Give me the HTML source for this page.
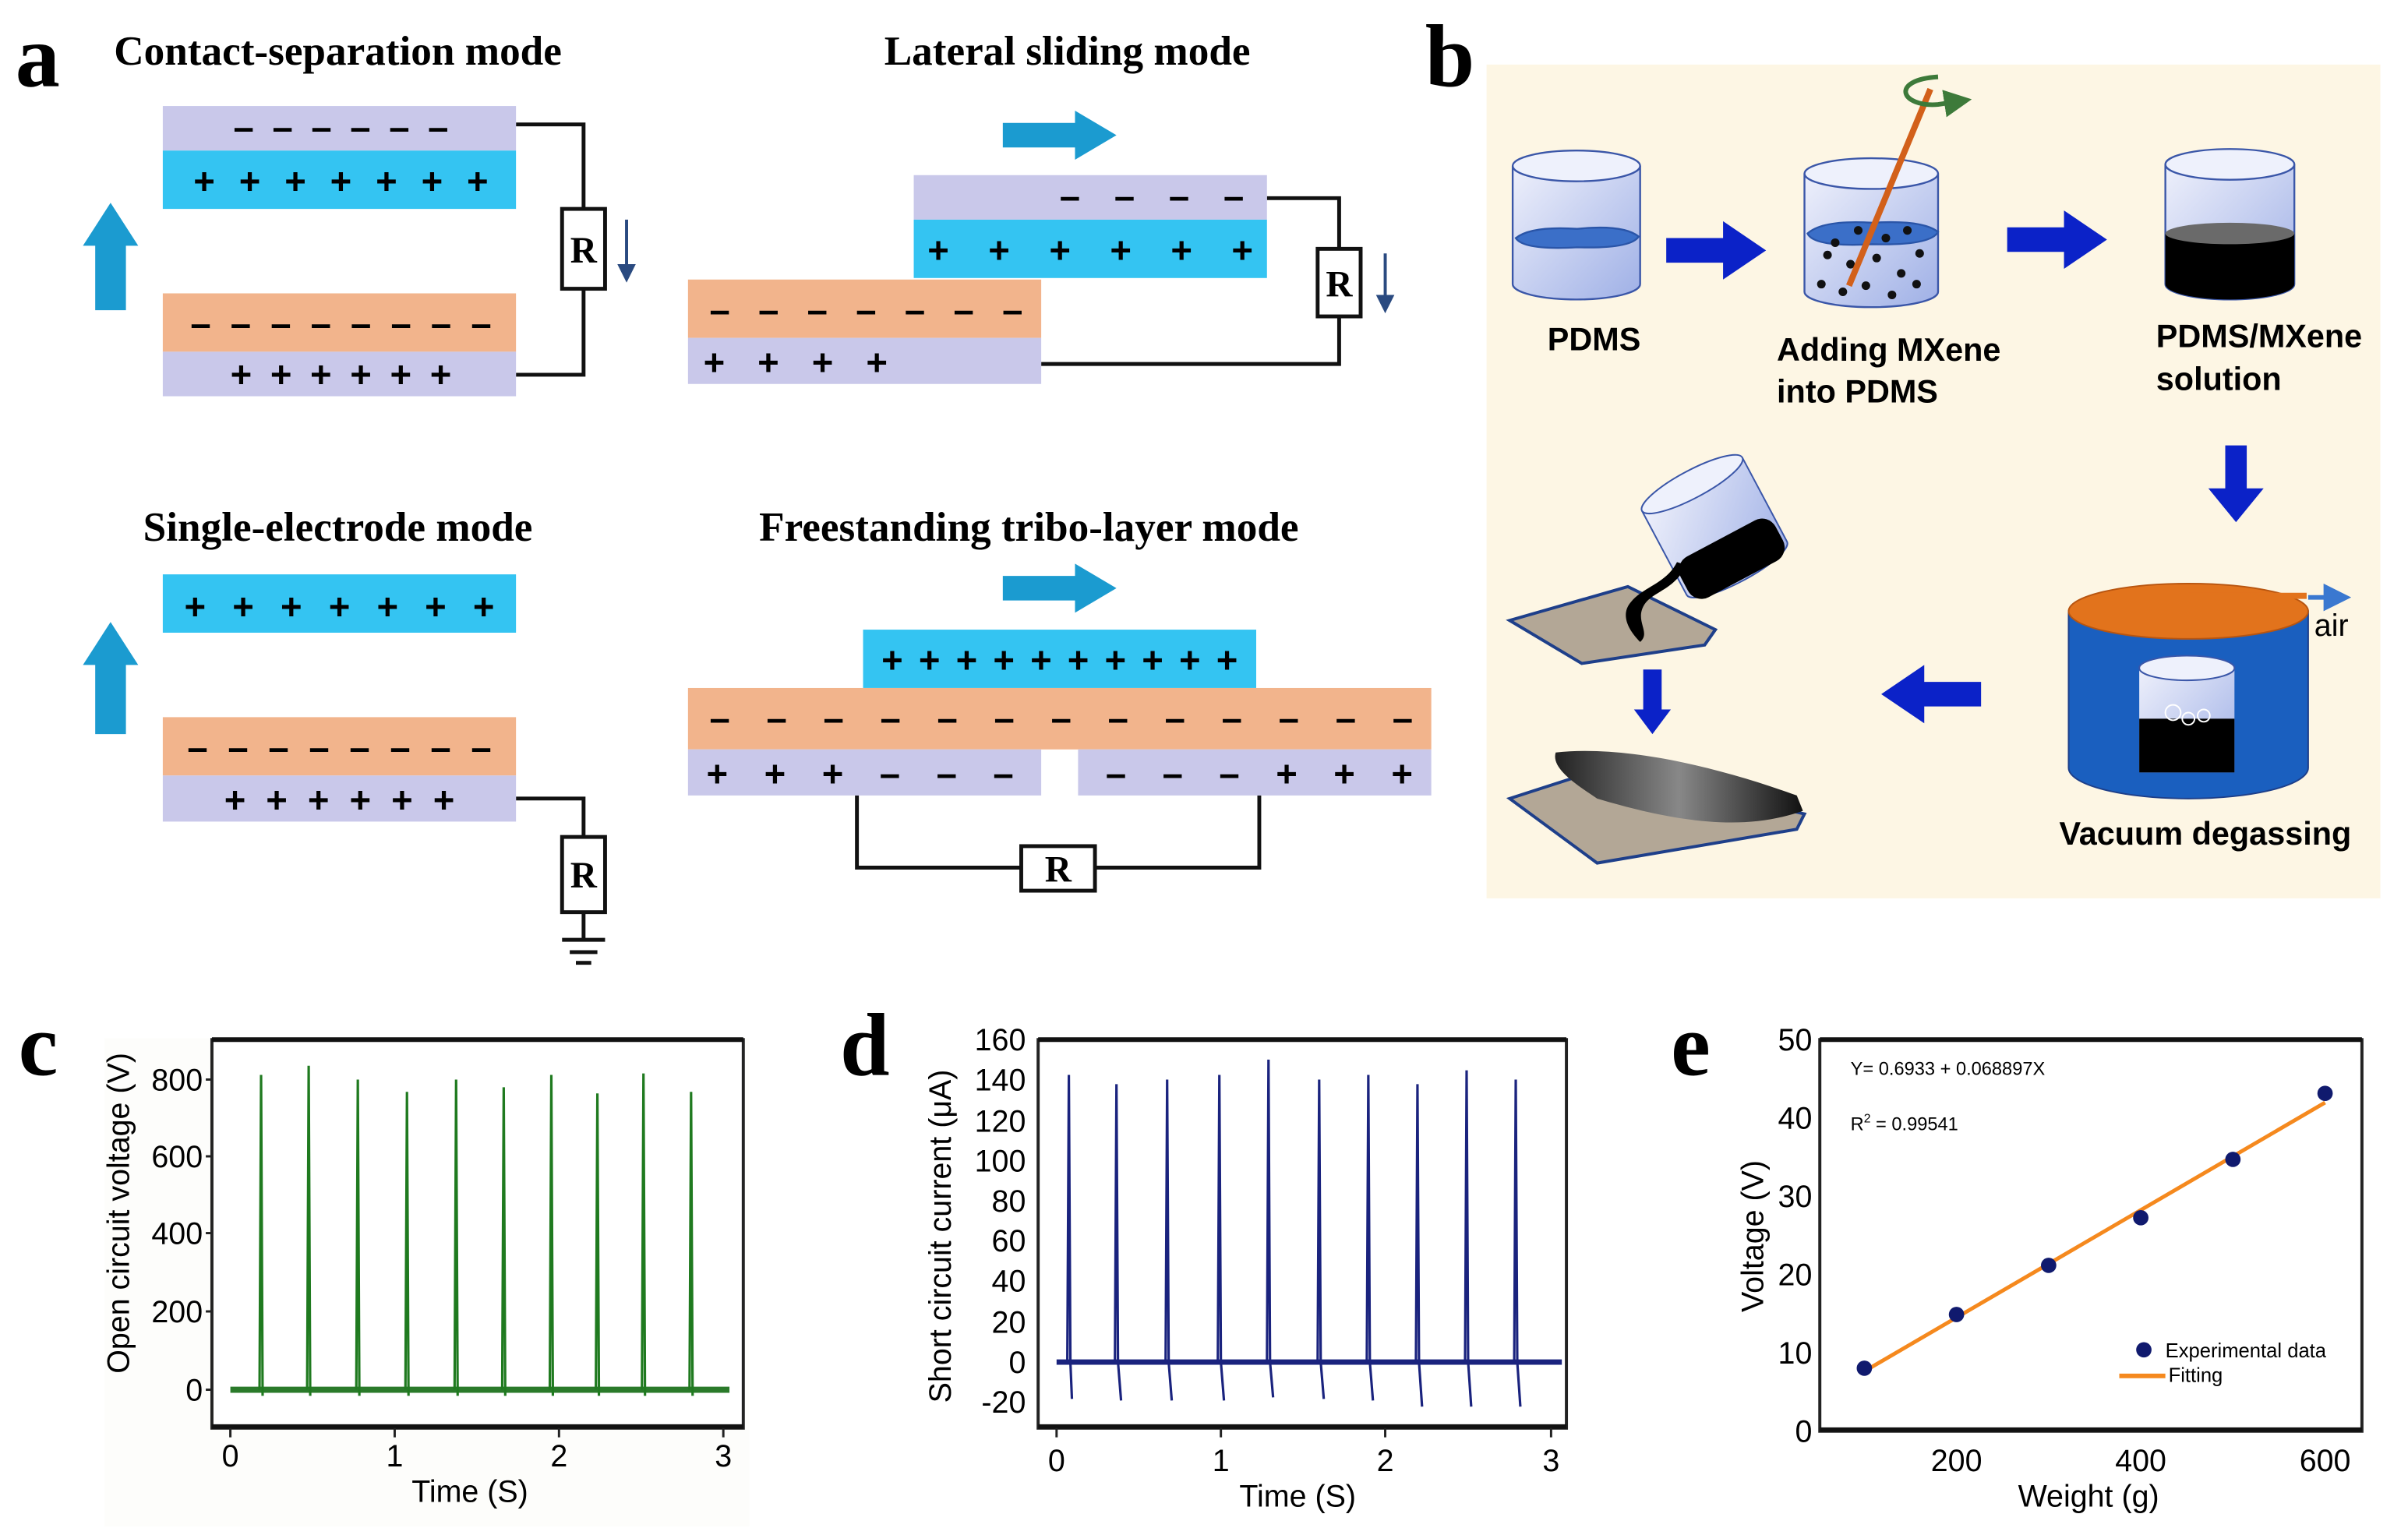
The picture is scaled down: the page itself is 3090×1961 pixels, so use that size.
<!DOCTYPE html>
<html><head><meta charset="utf-8"><style>
html,body{margin:0;padding:0;background:#fff}
svg{display:block}
.t{font-family:"Liberation Serif",serif;font-weight:bold;font-size:27px}
.L{font-family:"Liberation Serif",serif;font-weight:bold;font-size:58px}
.s{font-family:"Liberation Sans",sans-serif;font-weight:bold;font-size:21px}
.a{font-family:"Liberation Sans",sans-serif;font-size:20px}
.sg{font-family:"Liberation Sans",sans-serif;font-weight:bold;font-size:24px}
.R{font-family:"Liberation Serif",serif;font-weight:bold;font-size:24px}
</style></head><body>
<svg width="3090" height="1961" viewBox="0 0 1568 995" xmlns="http://www.w3.org/2000/svg">
<defs>
<linearGradient id="gl" x1="0" y1="0" x2="1" y2="1"><stop offset="0" stop-color="#eef0fb"/><stop offset="1" stop-color="#9fb0e6"/></linearGradient>
<linearGradient id="film" x1="0" y1="0" x2="1" y2="0"><stop offset="0" stop-color="#222"/><stop offset="0.5" stop-color="#888"/><stop offset="1" stop-color="#111"/></linearGradient>
<marker id="ah" markerWidth="6" markerHeight="6" refX="3" refY="3" orient="auto"><path d="M0,0 L6,3 L0,6z" fill="#2a4a80"/></marker>
<marker id="ab" markerWidth="6" markerHeight="6" refX="3" refY="3" orient="auto"><path d="M0,0 L6,3 L0,6z" fill="#3a78d0"/></marker>
<marker id="ag" markerWidth="6" markerHeight="6" refX="3" refY="3" orient="auto"><path d="M0,0 L6,3 L0,6z" fill="#3d7a3a"/></marker>
</defs>

<text class="L" x="10" y="56">a</text>
<text class="L" x="928" y="56">b</text>
<text class="L" x="12" y="700">c</text>
<text class="L" x="547" y="700">d</text>
<text class="L" x="1088" y="700">e</text>

<text class="t" x="220" y="42" text-anchor="middle">Contact-separation mode</text>
<text class="t" x="695" y="42" text-anchor="middle">Lateral sliding mode</text>
<text class="t" x="220" y="352" text-anchor="middle">Single-electrode mode</text>
<text class="t" x="670" y="352" text-anchor="middle">Freestanding tribo-layer mode</text>

<g fill="none" stroke="#111" stroke-width="2.5">
<path d="M336,81 H380 V244 H336"/>
<path d="M825,129 H872 V237 H678"/>
<path d="M336,520 H380 V612"/>
<path d="M558,518 V565 H820 V518"/>
</g>
<rect x="106" y="69" width="230" height="29" fill="#c9c8ea"/>
<rect x="106" y="98" width="230" height="38" fill="#34c4f2"/>
<rect x="106" y="191" width="230" height="38" fill="#f2b48c"/>
<rect x="106" y="229" width="230" height="29" fill="#c9c8ea"/>
<text class="sg" x="152" y="91" textLength="140" lengthAdjust="spacing">– – – – – –</text>
<text class="sg" x="126" y="126" textLength="192" lengthAdjust="spacing">+ + + + + + +</text>
<text class="sg" x="124" y="219" textLength="196" lengthAdjust="spacing">– – – – – – – –</text>
<text class="sg" x="150" y="252" textLength="144" lengthAdjust="spacing">+ + + + + +</text>
<rect x="366" y="136" width="28" height="52" fill="#fff" stroke="#111" stroke-width="2.5"/>
<text class="R" x="380" y="171" text-anchor="middle">R</text>
<line x1="408" y1="143" x2="408" y2="178" stroke="#2a4a80" stroke-width="2" marker-end="url(#ah)"/>
<path d="M62,202 V160 H54 L72,132 L90,160 H82 V202z" fill="#1b9bd0"/>

<path d="M653,80 H700 V72 L727,88 L700,104 V96 H653z" fill="#1b9bd0"/>
<rect x="595" y="114" width="230" height="29" fill="#c9c8ea"/>
<rect x="595" y="143" width="230" height="38" fill="#34c4f2"/>
<rect x="448" y="182" width="230" height="38" fill="#f2b48c"/>
<rect x="448" y="220" width="230" height="30" fill="#c9c8ea"/>
<text class="sg" x="690" y="136" textLength="120" lengthAdjust="spacing">– – – –</text>
<text class="sg" x="604" y="171" textLength="212" lengthAdjust="spacing">+ + + + + +</text>
<text class="sg" x="462" y="210" textLength="204" lengthAdjust="spacing">– – – – – – –</text>
<text class="sg" x="458" y="244" textLength="120" lengthAdjust="spacing">+ + + +</text>
<rect x="858" y="162" width="28" height="44" fill="#fff" stroke="#111" stroke-width="2.5"/>
<text class="R" x="872" y="193" text-anchor="middle">R</text>
<line x1="902" y1="165" x2="902" y2="198" stroke="#2a4a80" stroke-width="2" marker-end="url(#ah)"/>

<rect x="106" y="374" width="230" height="38" fill="#34c4f2"/>
<rect x="106" y="467" width="230" height="38" fill="#f2b48c"/>
<rect x="106" y="505" width="230" height="30" fill="#c9c8ea"/>
<text class="sg" x="120" y="403" textLength="202" lengthAdjust="spacing">+ + + + + + +</text>
<text class="sg" x="122" y="495" textLength="198" lengthAdjust="spacing">– – – – – – – –</text>
<text class="sg" x="146" y="529" textLength="150" lengthAdjust="spacing">+ + + + + +</text>
<path d="M62,478 V433 H54 L72,405 L90,433 H82 V478z" fill="#1b9bd0"/>
<rect x="366" y="545" width="28" height="49" fill="#fff" stroke="#111" stroke-width="2.5"/>
<text class="R" x="380" y="578" text-anchor="middle">R</text>
<g stroke="#111" stroke-width="2.5"><line x1="366" y1="612" x2="394" y2="612"/><line x1="371" y1="620" x2="389" y2="620"/><line x1="375" y1="627" x2="385" y2="627"/></g>

<path d="M653,375 H700 V367 L727,383 L700,399 V391 H653z" fill="#1b9bd0"/>
<rect x="562" y="410" width="256" height="38" fill="#34c4f2"/>
<rect x="448" y="448" width="484" height="40" fill="#f2b48c"/>
<rect x="448" y="488" width="230" height="30" fill="#c9c8ea"/>
<rect x="702" y="488" width="230" height="30" fill="#c9c8ea"/>
<text class="sg" x="574" y="438" textLength="232" lengthAdjust="spacing">+ + + + + + + + + +</text>
<text class="sg" x="462" y="476" textLength="458" lengthAdjust="spacing">– – – – – – – – – – – – –</text>
<text class="sg" x="460" y="512" textLength="200" lengthAdjust="spacing">+ + + – – –</text>
<text class="sg" x="720" y="512" textLength="200" lengthAdjust="spacing">– – – + + +</text>
<rect x="665" y="551" width="48" height="29" fill="#fff" stroke="#111" stroke-width="2.5"/>
<text class="R" x="689" y="574" text-anchor="middle">R</text>

<!-- Panel b -->
<rect x="968" y="42" width="582" height="543" fill="#fdf6e4"/>
<g stroke="#3a56a8" stroke-width="1.2">
<path d="M985,108 V185 A41.5,10 0 0 0 1068,185 V108" fill="url(#gl)"/>
<ellipse cx="1026.5" cy="108" rx="41.5" ry="10" fill="#eef1fc"/>
<path d="M987,155 q10,-8 40,-6 q30,-3 40,5 q-5,8 -40,7 q-35,2 -40,-6z" fill="#3b6fc8" stroke="#2a55a8"/>
</g>
<text class="s" x="1038" y="228" text-anchor="middle">PDMS</text>
<path d="M1085,155 H1122 V144 L1150,163 L1122,182 V171 H1085z" fill="#0b22c8"/>
<g stroke="#3a56a8" stroke-width="1.2">
<path d="M1175,113 V190 A43.5,10 0 0 0 1262,190 V113" fill="url(#gl)"/>
<ellipse cx="1218.5" cy="113" rx="43.5" ry="10" fill="#eef1fc"/>
<path d="M1177,152 q10,-9 42,-7 q33,-2 43,6 q-5,9 -43,8 q-38,2 -42,-7z" fill="#3b6fc8" stroke="#2a55a8"/>
</g>
<g fill="#111">
<circle cx="1190" cy="166" r="2.8"/><circle cx="1205" cy="172" r="2.8"/><circle cx="1222" cy="168" r="2.8"/><circle cx="1238" cy="178" r="2.8"/><circle cx="1250" cy="165" r="2.8"/>
<circle cx="1186" cy="185" r="2.8"/><circle cx="1200" cy="190" r="2.8"/><circle cx="1215" cy="186" r="2.8"/><circle cx="1232" cy="192" r="2.8"/><circle cx="1248" cy="185" r="2.8"/>
<circle cx="1210" cy="150" r="2.8"/><circle cx="1228" cy="155" r="2.8"/><circle cx="1195" cy="158" r="2.8"/><circle cx="1242" cy="150" r="2.8"/>
</g>
<line x1="1204" y1="186" x2="1257" y2="58" stroke="#d2601a" stroke-width="4"/>
<path d="M1262,50 C1230,52 1238,70 1262,68 L1275,66" fill="none" stroke="#3d7a3a" stroke-width="3" marker-end="url(#ag)"/>
<text class="s" x="1157" y="235">Adding MXene</text>
<text class="s" x="1157" y="262">into PDMS</text>
<path d="M1307,148 H1344 V137 L1372,156 L1344,175 V164 H1307z" fill="#0b22c8"/>
<g stroke="#3a56a8" stroke-width="1.2">
<path d="M1410,107 V185 A42,10 0 0 0 1494,185 V107" fill="url(#gl)"/>
<ellipse cx="1452" cy="107" rx="42" ry="10" fill="#eef1fc"/>
</g>
<path d="M1410,152 V185 A42,10 0 0 0 1494,185 V152z" fill="#000"/>
<ellipse cx="1452" cy="152" rx="42" ry="7" fill="#6a6a6a"/>
<text class="s" x="1404" y="226">PDMS/MXene</text>
<text class="s" x="1404" y="254">solution</text>
<path d="M1449,290 V318 H1438 L1456,340 L1474,318 H1463 V290z" fill="#0b22c8"/>
<path d="M1347,398 V500 A78,20 0 0 0 1503,500 V398z" fill="#1a5fbf" stroke="#1d3f8a"/>
<ellipse cx="1425" cy="398" rx="78" ry="18" fill="#e2731c" stroke="#b85510"/>
<line x1="1425" y1="388" x2="1502" y2="388" stroke="#e2731c" stroke-width="4"/>
<line x1="1503" y1="389" x2="1522" y2="389" stroke="#3a78d0" stroke-width="3" marker-end="url(#ab)"/>
<text class="a" x="1507" y="414">air</text>
<rect x="1393" y="435" width="62" height="68" fill="url(#gl)"/>
<ellipse cx="1424" cy="435" rx="31" ry="8" fill="#eef1fc" stroke="#3a56a8"/>
<rect x="1393" y="468" width="62" height="35" fill="#000"/>
<g fill="none" stroke="#fff" stroke-width="1"><circle cx="1415" cy="464" r="5"/><circle cx="1425" cy="468" r="4"/><circle cx="1435" cy="466" r="4"/></g>
<text class="s" x="1436" y="550" text-anchor="middle">Vacuum degassing</text>
<path d="M1290,444 H1253 V433 L1225,452 L1253,471 V460 H1290z" fill="#0b22c8"/>
<path d="M983,404 L1060,382 L1117,410 L1110,420 L1030,432 Z" fill="#b3a796" stroke="#1e3f8a" stroke-width="2"/>
<g transform="rotate(-28 1115 340)">
<path d="M1078,312 V374 A37,9 0 0 0 1152,374 V312" fill="url(#gl)" stroke="#3a56a8"/>
<ellipse cx="1115" cy="312" rx="37" ry="9" fill="#eef1fc" stroke="#3a56a8"/>
<rect x="1080" y="352" width="70" height="30" rx="10" fill="#000"/>
</g>
<path d="M1098,368 C1090,385 1075,385 1070,395 C1065,405 1075,412 1068,418 C1060,410 1055,400 1062,392 C1070,382 1085,380 1092,366z" fill="#000"/>
<path d="M1070,436 V462 H1064 L1076,478 L1088,462 H1082 V436z" fill="#0b22c8"/>
<path d="M983,520 L1045,500 L1175,530 L1170,540 L1040,562 Z" fill="#b3a796" stroke="#1e3f8a" stroke-width="2"/>
<path d="M1013,490 C1060,485 1120,500 1170,518 L1174,528 C1140,540 1100,538 1040,520 C1025,510 1010,500 1013,490z" fill="url(#film)"/>

<!-- Panel c -->
<rect x="68" y="676" width="420" height="318" fill="#fdfdfb"/>
<rect x="138" y="677" width="346" height="253" fill="#fff" stroke="#222" stroke-width="2"/>
<line x1="138" y1="677" x2="484" y2="677" stroke="#111" stroke-width="3"/>
<line x1="138" y1="929" x2="484" y2="929" stroke="#111" stroke-width="3"/>
<g class="a" text-anchor="end">
<text x="132" y="710">800</text><text x="132" y="760">600</text><text x="132" y="810">400</text><text x="132" y="861">200</text><text x="132" y="912">0</text>
</g>
<g stroke="#222" stroke-width="1.5"><line x1="134" y1="703" x2="138" y2="703"/><line x1="134" y1="753" x2="138" y2="753"/><line x1="134" y1="803" x2="138" y2="803"/><line x1="134" y1="854" x2="138" y2="854"/><line x1="134" y1="905" x2="138" y2="905"/>
<line x1="150" y1="930" x2="150" y2="936"/><line x1="257" y1="930" x2="257" y2="936"/><line x1="364" y1="930" x2="364" y2="936"/><line x1="471" y1="930" x2="471" y2="936"/></g>
<g class="a" text-anchor="middle"><text x="150" y="955">0</text><text x="257" y="955">1</text><text x="364" y="955">2</text><text x="471" y="955">3</text></g>
<text class="a" x="306" y="978" text-anchor="middle">Time (S)</text>
<text class="a" transform="translate(84,790) rotate(-90)" text-anchor="middle">Open circuit voltage (V)</text>
<line x1="150" y1="905" x2="475" y2="905" stroke="#2a7a2a" stroke-width="4"/>
<path d="M169,905 L170,700 L171,909 M200,905 L201,694 L202,909 M232,905 L233,703 L234,909 M264,905 L265,711 L266,909 M296,905 L297,703 L298,909 M327,905 L328,708 L329,909 M358,905 L359,700 L360,909 M388,905 L389,712 L390,909 M418,905 L419,699 L420,909 M449,905 L450,711 L451,909" fill="none" stroke="#1f7a1f" stroke-width="1.6"/>

<!-- Panel d -->
<rect x="676" y="677" width="344" height="253" fill="#fff" stroke="#222" stroke-width="2"/>
<line x1="676" y1="677" x2="1020" y2="677" stroke="#111" stroke-width="3"/>
<line x1="676" y1="929" x2="1020" y2="929" stroke="#111" stroke-width="3"/>
<g class="a" text-anchor="end">
<text x="668" y="684">160</text><text x="668" y="710">140</text><text x="668" y="737">120</text><text x="668" y="763">100</text><text x="668" y="789">80</text><text x="668" y="815">60</text><text x="668" y="841">40</text><text x="668" y="868">20</text><text x="668" y="894">0</text><text x="668" y="920">-20</text>
</g>
<g stroke="#222" stroke-width="1.5"><line x1="688" y1="930" x2="688" y2="936"/><line x1="795" y1="930" x2="795" y2="936"/><line x1="902" y1="930" x2="902" y2="936"/><line x1="1010" y1="930" x2="1010" y2="936"/></g>
<g class="a" text-anchor="middle"><text x="688" y="958">0</text><text x="795" y="958">1</text><text x="902" y="958">2</text><text x="1010" y="958">3</text></g>
<text class="a" x="845" y="981" text-anchor="middle">Time (S)</text>
<text class="a" transform="translate(619,805) rotate(-90)" text-anchor="middle">Short circuit current (μA)</text>
<line x1="688" y1="887" x2="1017" y2="887" stroke="#1a237e" stroke-width="3.5"/>
<path d="M695,887 L696,700 L697,887 L698,911 M726,887 L727,706 L728,887 L730,912 M759,887 L760,703 L761,887 L763,912 M793,887 L794,700 L795,887 L797,912 M825,887 L826,690 L827,887 L829,910 M858,887 L859,703 L860,887 L862,911 M890,887 L891,700 L892,887 L894,912 M922,887 L923,706 L924,887 L926,916 M954,887 L955,697 L956,887 L958,916 M986,887 L987,703 L988,887 L990,916" fill="none" stroke="#1a237e" stroke-width="1.6"/>

<!-- Panel e -->
<rect x="1185" y="677" width="353" height="255" fill="#fff" stroke="#222" stroke-width="2"/>
<line x1="1185" y1="677" x2="1538" y2="677" stroke="#111" stroke-width="3"/>
<line x1="1185" y1="931" x2="1538" y2="931" stroke="#111" stroke-width="3"/>
<g class="a" text-anchor="end">
<text x="1180" y="684">50</text><text x="1180" y="735">40</text><text x="1180" y="786">30</text><text x="1180" y="837">20</text><text x="1180" y="888">10</text><text x="1180" y="939">0</text>
</g>
<g class="a" text-anchor="middle"><text x="1274" y="958">200</text><text x="1394" y="958">400</text><text x="1514" y="958">600</text></g>
<text class="a" x="1360" y="981" text-anchor="middle">Weight (g)</text>
<text class="a" transform="translate(1148,805) rotate(-90)" text-anchor="middle">Voltage (V)</text>
<text x="1205" y="700" font-family="Liberation Sans,sans-serif" font-size="12">Y= 0.6933 + 0.068897X</text>
<text x="1205" y="736" font-family="Liberation Sans,sans-serif" font-size="12">R<tspan font-size="8" dy="-5">2</tspan><tspan dy="5"> = 0.99541</tspan></text>
<line x1="1214" y1="893" x2="1514" y2="718" stroke="#f5891e" stroke-width="2.5"/>
<g fill="#101a6e"><circle cx="1214" cy="891" r="5"/><circle cx="1274" cy="856" r="5"/><circle cx="1334" cy="824" r="5"/><circle cx="1394" cy="793" r="5"/><circle cx="1454" cy="755" r="5"/><circle cx="1514" cy="712" r="5"/><circle cx="1396" cy="879" r="5"/></g>
<line x1="1380" y1="896" x2="1410" y2="896" stroke="#f5891e" stroke-width="3"/>
<text x="1410" y="884" font-family="Liberation Sans,sans-serif" font-size="13">Experimental data</text>
<text x="1412" y="900" font-family="Liberation Sans,sans-serif" font-size="13">Fitting</text>
</svg>
</body></html>
